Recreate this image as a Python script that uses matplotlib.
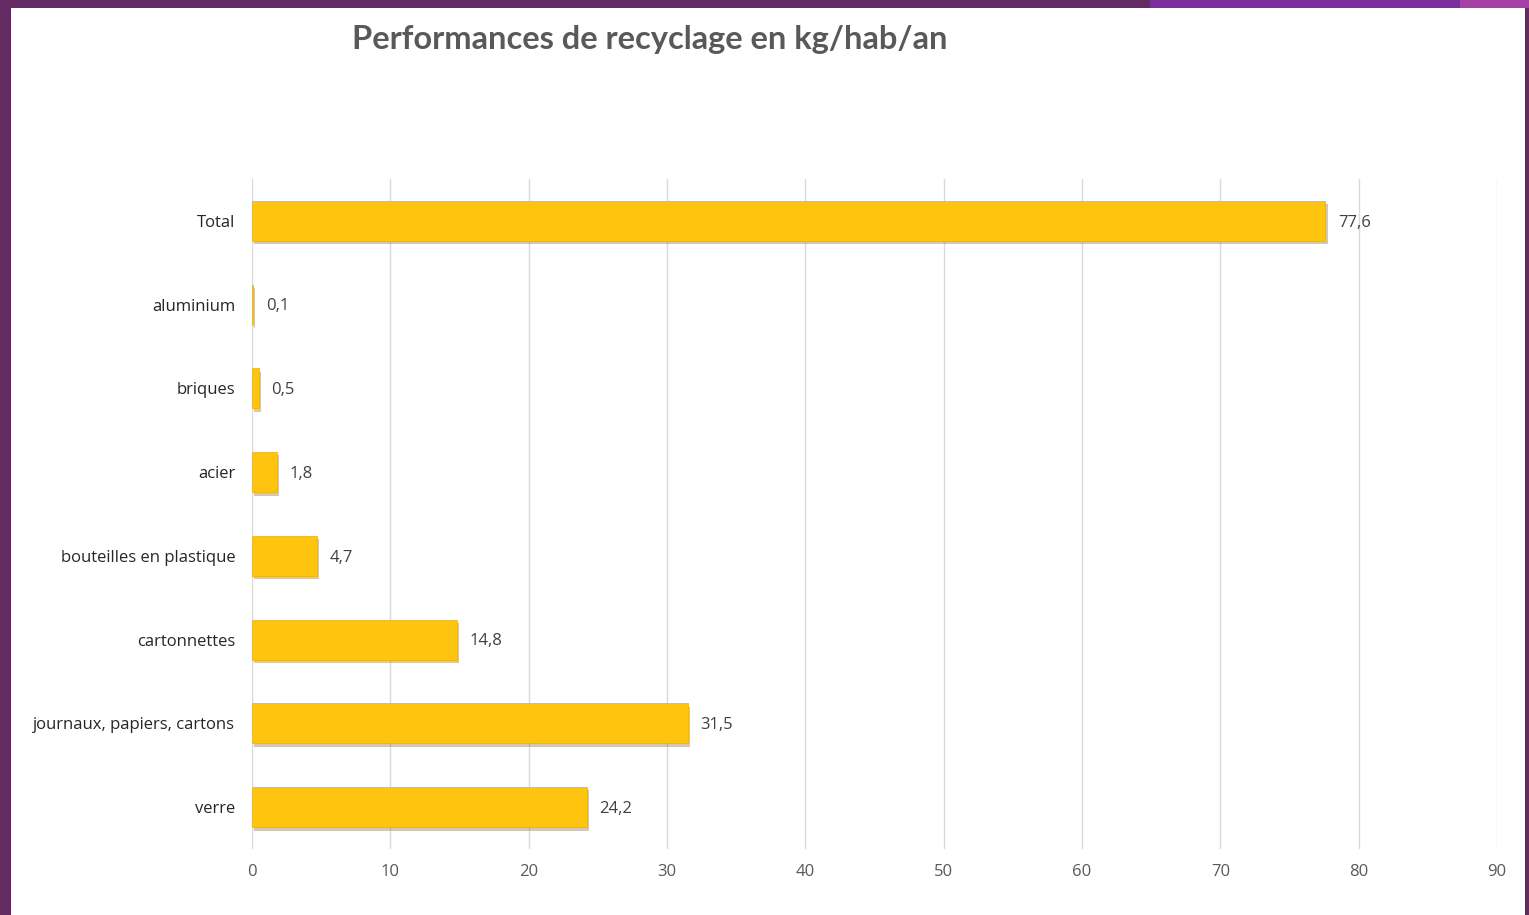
import matplotlib
matplotlib.use("Agg")
import matplotlib.pyplot as plt
from matplotlib.patches import Rectangle
import matplotlib.patheffects as pe

categories = ["Total", "aluminium", "briques", "acier", "bouteilles en plastique",
              "cartonnettes", "journaux, papiers, cartons", "verre"]
values = [77.6, 0.1, 0.5, 1.8, 4.7, 14.8, 31.5, 24.2]
value_labels = ["77,6", "0,1", "0,5", "1,8", "4,7", "14,8", "31,5", "24,2"]
xticks = [0, 10, 20, 30, 40, 50, 60, 70, 80, 90]
title = "Performances de recyclage en kg/hab/an"

W, H = 1529, 915
fig = plt.figure(figsize=(W / 100, H / 100), dpi=100)
fig.patch.set_facecolor("#632B62")

# top-right decorative strip
fig.add_artist(Rectangle((1150 / W, 1 - 8 / H), 310 / W, 8 / H, transform=fig.transFigure,
                         facecolor="#7A2E9E", edgecolor="none", zorder=0))
fig.add_artist(Rectangle((1460 / W, 1 - 8 / H), 69 / W, 8 / H, transform=fig.transFigure,
                         facecolor="#A43FA6", edgecolor="none", zorder=0))
# white slide area
fig.add_artist(Rectangle((11 / W, 0), (1525 - 11) / W, 1 - 8 / H, transform=fig.transFigure,
                         facecolor="white", edgecolor="none", zorder=0))

ax = fig.add_axes([252 / W, 1 - 849 / H, (1497 - 252) / W, (849 - 179) / H])
ax.set_facecolor("none")

y = list(range(len(categories)))
bars = ax.barh(y, values, height=0.48, color="#FFC40F", edgecolor="#EDB000", linewidth=0.5,
               zorder=3)
for b in bars:
    b.set_path_effects([pe.SimplePatchShadow(offset=(1.5, -2.5), shadow_rgbFace="#8a7a50",
                                             alpha=0.4), pe.Normal()])

for yi, v, lab in zip(y, values, value_labels):
    ax.text(v + 0.9, yi + 0.02, lab, va="center", ha="left", fontsize=12, color="#404040",
            family="Open Sans")

ax.set_ylim(len(categories) - 0.5, -0.5)
ax.set_xlim(0, 90)
ax.set_yticks(y)
ax.set_yticklabels(categories, fontsize=12, color="#262626", family="Open Sans")
ax.tick_params(axis="both", length=0)
ax.set_xticks(xticks)
ax.set_xticklabels([str(t) for t in xticks], fontsize=12, color="#595959", family="Open Sans")
ax.tick_params(axis="y", pad=12)
ax.tick_params(axis="x", pad=11)
ax.grid(axis="x", color="#D9D9D9", linewidth=1.0, zorder=0)
for s in ax.spines.values():
    s.set_visible(False)

fig.text(650 / W, 1 - 40 / H, title, ha="center", va="center", fontsize=23.5,
         fontweight="bold", color="#595959", family="Lato")

fig.savefig("out.png", dpi=100, facecolor=fig.get_facecolor())
